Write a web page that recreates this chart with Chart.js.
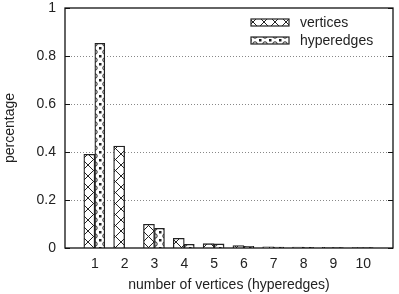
<!DOCTYPE html>
<html>
<head>
<meta charset="utf-8">
<script src="https://cdn.jsdelivr.net/npm/chart.js@4.4.1/dist/chart.umd.min.js"></script>
<style>
html,body{margin:0;padding:0;background:#fff;}
#wrap{width:399px;height:294px;}
</style>
</head>
<body>
<div id="wrap"><canvas id="c" width="399" height="294"></canvas></div>
<script>
const categories = ['0','1','2','3','4','5','6','7','8','9','10','11'];
const vertices   = [null, 0.39, 0.425, 0.099, 0.040, 0.018, 0.010, 0.005, 0.004, 0.003, 0.002, null];
const hyperedges = [null, 0.853, null, 0.082, 0.015, 0.017, 0.007, 0.004, 0.003, 0.002, 0.002, null];
const yTicks = [0, 0.2, 0.4, 0.6, 0.8, 1];
const seriesNames = ['vertices', 'hyperedges'];

function makeCross(){
  const c = document.createElement('canvas'); c.width = 11; c.height = 11;
  const g = c.getContext('2d');
  g.fillStyle = '#fff'; g.fillRect(0,0,11,11);
  g.strokeStyle = '#222'; g.lineWidth = 1;
  g.beginPath(); g.moveTo(0,0); g.lineTo(11,11); g.moveTo(11,0); g.lineTo(0,11); g.stroke();
  return g.createPattern(c,'repeat');
}
function makeCircles(){
  const c = document.createElement('canvas'); c.width = 10; c.height = 8;
  const g = c.getContext('2d');
  g.fillStyle = '#fff'; g.fillRect(0,0,10,8);
  g.strokeStyle = '#222'; g.lineWidth = 1;
  g.beginPath(); g.arc(5,4,2.2,0,Math.PI*2); g.stroke();
  g.fillStyle = '#222';
  g.fillRect(0,0,1.5,1.5); g.fillRect(9,0,1,1.5); g.fillRect(0,7,1.5,1); g.fillRect(9,7,1,1);
  return g.createPattern(c,'repeat');
}
const crossPat = makeCross();
const circPat = makeCircles();

const FONT = '"Liberation Sans", Arial, sans-serif';

const framePlugin = {
  id: 'frame',
  beforeDatasetsDraw(chart){
    const {ctx, chartArea:a, scales:{y}} = chart;
    ctx.save();
    ctx.strokeStyle = '#888'; ctx.lineWidth = 1; ctx.setLineDash([1,2]);
    yTicks.forEach(v => {
      if (v === 0 || v === 1) return;
      const py = Math.round(y.getPixelForValue(v)) + 0.5;
      ctx.beginPath(); ctx.moveTo(a.left, py); ctx.lineTo(a.right, py); ctx.stroke();
    });
    ctx.restore();
  },
  afterDatasetsDraw(chart){
    const {ctx, chartArea:a, scales:{y}} = chart;
    ctx.save();
    ctx.strokeStyle = '#111'; ctx.lineWidth = 1.3;
    ctx.strokeRect(a.left, a.top, a.right - a.left, a.bottom - a.top);
    ctx.lineWidth = 1;
    yTicks.forEach(v => {
      const py = Math.round(y.getPixelForValue(v)) + 0.5;
      ctx.beginPath();
      ctx.moveTo(a.left, py); ctx.lineTo(a.left + 5, py);
      ctx.moveTo(a.right, py); ctx.lineTo(a.right - 5, py);
      ctx.stroke();
    });
    // legend
    const pats = [crossPat, circPat];
    const rows = [19, 37];
    ctx.font = '14px ' + FONT;
    ctx.textBaseline = 'middle';
    ctx.textAlign = 'left';
    for (let i = 0; i < 2; i++){
      const bx = 251, by = rows[i], bw = 38, bh = 7;
      ctx.fillStyle = pats[i];
      ctx.fillRect(bx, by, bw, bh);
      ctx.strokeStyle = '#222'; ctx.lineWidth = 1.2;
      ctx.strokeRect(bx, by, bw, bh);
      ctx.fillStyle = '#222';
      ctx.fillText(seriesNames[i], 300, by + 4);
    }
    ctx.restore();
  }
};

new Chart(document.getElementById('c'), {
  type: 'bar',
  data: {
    labels: categories,
    datasets: [
      { label: seriesNames[0], data: vertices, backgroundColor: crossPat, borderColor: '#222', borderWidth: 1.3, barThickness: 11 },
      { label: seriesNames[1], data: hyperedges, backgroundColor: circPat, borderColor: '#222', borderWidth: 1.3, barThickness: 10 }
    ]
  },
  options: {
    responsive: false,
    animation: false,
    devicePixelRatio: 1,
    layout: { padding: { top: 8, right: 6, left: 2, bottom: 0 } },
    plugins: { legend: { display: false }, tooltip: { enabled: false } },
    scales: {
      x: {
        offset: false,
        grid: { display: false, drawTicks: false },
        border: { display: false },
        ticks: {
          color: '#222', font: { family: FONT, size: 14 }, padding: 8, maxRotation: 0, autoSkip: false,
          callback: (v, i) => (i === 0 || i === categories.length - 1) ? '' : categories[i]
        },
        title: { display: true, text: 'number of vertices (hyperedges)', color: '#222', font: { family: FONT, size: 14 }, padding: { top: 2, bottom: 0 } },
        afterFit: s => { s.height = 46; s.paddingLeft = 0; s.paddingRight = 0; }
      },
      y: {
        min: 0, max: 1,
        afterBuildTicks: s => { s.ticks = yTicks.map(v => ({ value: v })); },
        grid: { display: false, drawTicks: false },
        border: { display: false },
        ticks: { color: '#222', font: { family: FONT, size: 14 }, padding: 9, callback: v => String(v) },
        title: { display: true, text: 'percentage', color: '#222', font: { family: FONT, size: 14 }, padding: { top: 0, bottom: 0 } },
        afterFit: s => { s.width = 63; s.paddingTop = 0; s.paddingBottom = 0; }
      }
    }
  },
  plugins: [framePlugin]
});
</script>
</body>
</html>
